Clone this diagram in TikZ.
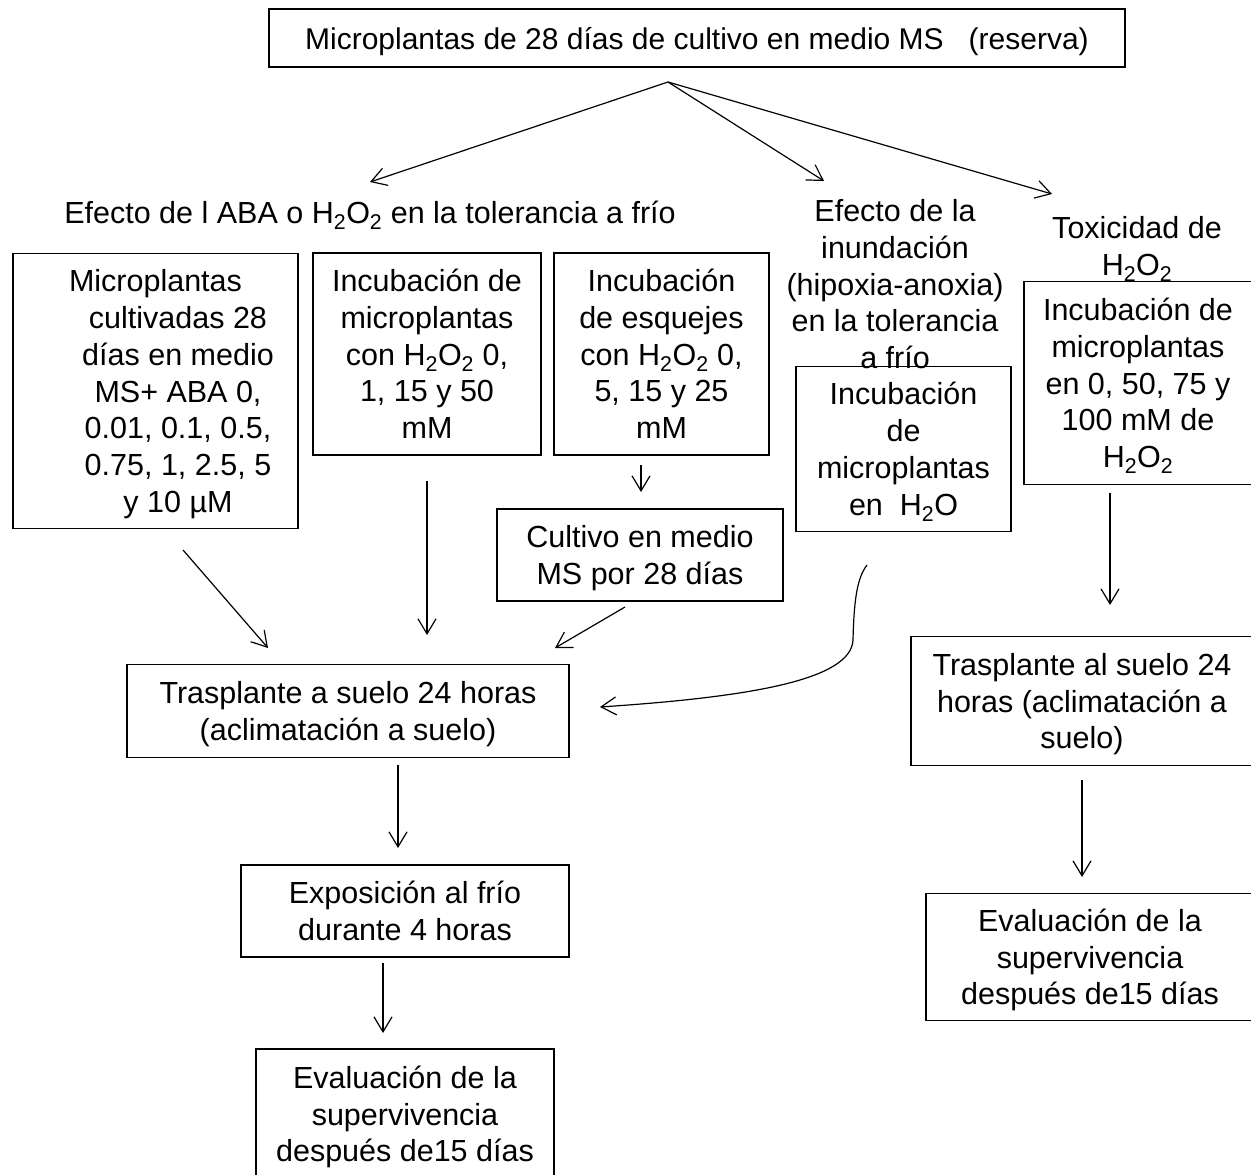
\documentclass[tikz,border=0pt]{standalone}
\usepackage{fontspec}
\setmainfont{Liberation Sans}
\usetikzlibrary{arrows.meta}
\newcommand{\hho}{H\textsubscript{2}O\textsubscript{2}}
\newcommand{\hwat}{H\textsubscript{2}O}
\newcommand{\ind}{\hspace*{45pt}}
\begin{document}
\begin{tikzpicture}[x=1pt,y=-1pt,
  txt/.style={inner sep=0pt,align=center,font=\fontsize{30.5}{36.7}\selectfont},
  box/.style={txt,draw,line width=1.4pt},
  lbl/.style={txt},
  one/.style={text height=31pt,text depth=9pt},
  two/.style={text height=67.7pt,text depth=9pt},
  three/.style={text height=104.4pt,text depth=9pt},
  four/.style={text height=141.1pt,text depth=9pt},
  five/.style={text height=177.8pt,text depth=9pt},
  seven/.style={text height=251.2pt,text depth=9pt},
  arr/.style={line width=1.2pt,-{Straight Barb[length=15pt,width=18pt,line width=1.2pt]}}]
\useasboundingbox (0,0) rectangle (1251,1175);
\fill[white] (0,0) rectangle (1251,1175);
% top
\node[box,one,font=\fontsize{30}{36}\selectfont,minimum width=856,minimum height=58] (top) at (697,38) {Microplantas de 28 días de cultivo en medio MS\ \ \ (reserva)};
% labels
\node[lbl,one] (lab1) at (370,212) {Efecto de l ABA o \hho{} en la tolerancia a frío};
\node[lbl,five] (lab2) at (895,284) {Efecto de la\\inundación\\(hipoxia-anoxia)\\en la tolerancia\\a frío};
\node[lbl,two] (lab3) at (1137,246) {Toxicidad de\\\hho};
% boxes
\node[box,seven,minimum width=285,minimum height=275] (b1) at (155.5,391) {Microplantas\\\ind cultivadas 28\\\ind días en medio\\\ind MS+ ABA 0,\\\ind 0.01, 0.1, 0.5,\\\ind 0.75, 1, 2.5, 5\\\ind y 10 µM};
\node[box,five,minimum width=228,minimum height=202] (b2) at (427,354) {Incubación de\\microplantas\\con \hho{} 0,\\1, 15 y 50\\mM};
\node[box,five,minimum width=215,minimum height=202] (b3) at (661.5,354) {Incubación\\de esquejes\\con \hho{} 0,\\5, 15 y 25\\mM};
\node[box,two,minimum width=286,minimum height=92] (cult) at (640,555) {Cultivo en medio\\MS por 28 días};
\node[box,four,minimum width=215,minimum height=165] (bw) at (903.5,449) {Incubación\\de\\microplantas\\en\ \ \hwat};
\node[box,five,minimum width=228,minimum height=203] (br) at (1138,383) {Incubación de\\microplantas\\en 0, 50, 75 y\\100 mM de\\\hho};
\node[box,two,minimum width=442,minimum height=93] (tr) at (348,711) {Trasplante a suelo 24 horas\\(aclimatación a suelo)};
\node[box,three,minimum width=342,minimum height=129] (trr) at (1082,701) {Trasplante al suelo 24\\horas (aclimatación a\\suelo)};
\node[box,two,minimum width=328,minimum height=92] (exp) at (405,911) {Exposición al frío\\durante 4 horas};
\node[box,three,minimum width=298,minimum height=130] (evl) at (405,1114) {Evaluación de la\\supervivencia\\después de15 días};
\node[box,three,minimum width=328,minimum height=127] (evr) at (1090,957) {Evaluación de la\\supervivencia\\después de15 días};
% coordinates
\coordinate (o) at (668,82);
\coordinate (t1) at (370,182);
\coordinate (t2) at (824,181);
\coordinate (t3) at (1052,194);
\coordinate (s3) at (641,465); \coordinate (e3) at (641,492);
\coordinate (s1) at (183,550); \coordinate (e1) at (268,648);
\coordinate (s2) at (427,481); \coordinate (e2) at (427,635);
\coordinate (sc) at (625,607); \coordinate (ec) at (555,648);
\coordinate (sw) at (867,565); \coordinate (mw) at (853,640); \coordinate (ew) at (600,707);
\coordinate (sr) at (1110,493); \coordinate (er) at (1110,605);
\coordinate (st) at (398,765); \coordinate (et) at (398,848);
\coordinate (sx) at (383,963); \coordinate (ex) at (383,1033);
\coordinate (stt) at (1082,780); \coordinate (ett) at (1082,877);
% arrows
\draw[arr] (o) -- (t1);
\draw[arr] (o) -- (t2);
\draw[arr] (o) -- (t3);
\draw[arr] (s3) -- (e3);
\draw[arr] (s1) -- (e1);
\draw[arr] (s2) -- (e2);
\draw[arr] (sc) -- (ec);
\draw[arr] (sw) .. controls (857,578) and (854,600) .. (mw) .. controls (851,680) and (750,697) .. (ew);
\draw[arr] (sr) -- (er);
\draw[arr] (st) -- (et);
\draw[arr] (sx) -- (ex);
\draw[arr] (stt) -- (ett);
\end{tikzpicture}
\end{document}
